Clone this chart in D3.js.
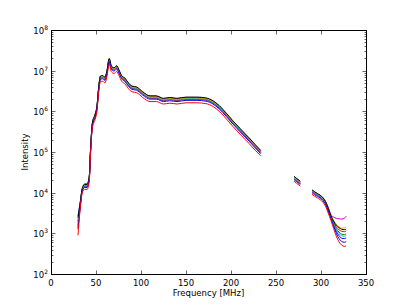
<!DOCTYPE html>
<html>
<meta charset="utf-8" />
<head>
<style>
body { margin: 0; background: #fff; }
svg text { font-family: "DejaVu Sans", sans-serif; fill: #000; }
</style>
<script src="https://d3js.org/d3.v7.min.js" charset="utf-8"></script>
</head>
<body>
<svg class="chart" width="407" height="305"></svg>
<script>
// frequency in MHz; the null values at 250 and 284 break the line into three pieces
var freq = [30,32,35,37.5,40,42.5,44,46,49,51,53,55,57.5,60,62,64.7,67,70,73,75.5,78.5,82,86,90,95,102,110,117,125,132,140,150,162,172,180,187,195,202,210,220,227,233,
  250, 270,273,277, 284,
  290,293,296,299,302,305,308,311,314,317,320,323,326,328];

// log10 of intensity
var logBlue1 = [3.42,3.70,4.08,4.16,4.16,4.35,5.05,5.67,5.88,6.07,6.55,6.82,6.83,6.79,6.93,7.25,7.07,7.02,7.07,6.97,6.83,6.77,6.65,6.57,6.55,6.43,6.33,6.33,6.27,6.29,6.27,6.30,6.30,6.28,6.21,6.09,5.90,5.72,5.53,5.30,5.13,4.99,
  null, 4.35,4.30,4.23, null,
  4.03,3.98,3.94,3.90,3.84,3.74,3.58,3.39,3.22,3.05,2.94,2.88,2.87,2.89];
var logGreen = [3.30,3.64,4.12,4.22,4.22,4.39,5.09,5.71,5.92,6.11,6.59,6.86,6.87,6.83,6.97,7.29,7.11,7.06,7.11,7.01,6.87,6.81,6.69,6.61,6.59,6.47,6.37,6.37,6.31,6.33,6.31,6.34,6.34,6.32,6.25,6.13,5.94,5.76,5.57,5.34,5.17,5.03,
  null, 4.39,4.34,4.27, null,
  4.06,4.01,3.97,3.93,3.87,3.77,3.61,3.41,3.26,3.12,3.03,2.98,2.97,2.99];
var logRed1 = [3.15,3.58,4.08,4.13,4.13,4.35,5.05,5.67,5.88,6.07,6.55,6.82,6.83,6.79,6.93,7.25,7.07,7.02,7.07,6.97,6.83,6.77,6.65,6.57,6.55,6.43,6.33,6.33,6.27,6.29,6.27,6.30,6.30,6.28,6.21,6.09,5.90,5.72,5.53,5.30,5.13,4.99,
  null, 4.35,4.30,4.23, null,
  4.03,3.98,3.94,3.90,3.84,3.75,3.60,3.42,3.28,3.16,3.09,3.05,3.04,3.06];
var logCyan = [3.28,3.63,4.09,4.17,4.17,4.36,5.06,5.68,5.89,6.08,6.56,6.83,6.84,6.80,6.94,7.26,7.08,7.03,7.08,6.98,6.84,6.78,6.66,6.58,6.56,6.44,6.34,6.34,6.28,6.30,6.28,6.31,6.31,6.29,6.22,6.10,5.91,5.73,5.54,5.31,5.14,5.00,
  null, 4.36,4.31,4.24, null,
  4.04,3.99,3.95,3.91,3.85,3.75,3.59,3.40,3.24,3.09,2.99,2.94,2.93,2.95];
var logMagenta = [3.20,3.60,4.11,4.19,4.19,4.38,5.08,5.70,5.91,6.10,6.58,6.85,6.86,6.82,6.96,7.27,7.10,7.06,7.11,7.00,6.86,6.80,6.69,6.61,6.58,6.46,6.37,6.37,6.31,6.33,6.31,6.34,6.34,6.31,6.24,6.12,5.93,5.75,5.56,5.33,5.16,5.02,
  null, 4.38,4.33,4.26, null,
  4.06,4.01,3.97,3.93,3.88,3.79,3.64,3.46,3.40,3.37,3.36,3.35,3.37,3.42];
var logYellow = [3.25,3.62,4.11,4.19,4.19,4.38,5.08,5.70,5.91,6.10,6.58,6.85,6.86,6.82,6.96,7.28,7.10,7.05,7.10,7.00,6.86,6.80,6.68,6.60,6.58,6.46,6.36,6.36,6.30,6.32,6.30,6.33,6.33,6.31,6.24,6.12,5.93,5.75,5.56,5.33,5.16,5.02,
  null, 4.38,4.33,4.26, null,
  4.06,4.01,3.97,3.93,3.87,3.78,3.62,3.44,3.32,3.22,3.16,3.13,3.13,3.15];
var logBlack = [3.38,3.68,4.13,4.20,4.20,4.40,5.10,5.72,5.93,6.12,6.60,6.87,6.88,6.84,6.98,7.30,7.12,7.07,7.12,7.02,6.88,6.82,6.70,6.62,6.60,6.48,6.38,6.38,6.32,6.34,6.32,6.35,6.35,6.33,6.26,6.14,5.95,5.77,5.58,5.35,5.18,5.04,
  null, 4.40,4.35,4.28, null,
  4.07,4.02,3.98,3.94,3.88,3.78,3.62,3.44,3.30,3.20,3.14,3.10,3.09,3.10];
var logBlue2 = [3.10,3.55,4.05,4.13,4.13,4.32,5.02,5.64,5.85,6.04,6.52,6.79,6.80,6.76,6.90,7.22,7.04,6.99,7.04,6.94,6.80,6.74,6.62,6.54,6.52,6.40,6.30,6.30,6.24,6.26,6.24,6.27,6.27,6.25,6.18,6.06,5.87,5.69,5.50,5.27,5.10,4.96,
  null, 4.32,4.27,4.20, null,
  4.00,3.95,3.91,3.87,3.81,3.71,3.55,3.36,3.18,3.00,2.87,2.80,2.78,2.80];
var logRed2 = [2.95,3.50,4.02,4.08,4.08,4.28,4.98,5.60,5.80,5.99,6.47,6.73,6.74,6.70,6.84,7.16,6.98,6.93,6.98,6.88,6.74,6.68,6.56,6.48,6.46,6.34,6.24,6.24,6.18,6.20,6.18,6.21,6.21,6.19,6.12,6.00,5.81,5.63,5.44,5.21,5.04,4.91,
  null, 4.28,4.23,4.16, null,
  3.96,3.91,3.87,3.83,3.77,3.67,3.50,3.32,3.12,2.93,2.79,2.71,2.68,2.69];

var seriesValues = [logBlue1, logGreen, logRed1, logCyan, logMagenta, logYellow, logBlack, logBlue2, logRed2];
var seriesColors = ["#0000ff", "#008000", "#ff0000", "#00bfbf", "#bf00bf", "#bfbf00", "#000000", "#0000ff", "#ff0000"];

var xTicks = [0, 50, 100, 150, 200, 250, 300, 350];
var yExps = [2, 3, 4, 5, 6, 7, 8];

var plotLeft = 51, plotRight = 366, plotTop = 30, plotBottom = 274;

var svg = d3.select(".chart");

var x = d3.scaleLinear().domain([0, 350]).range([plotLeft, plotRight]);
var y = d3.scaleLog().domain([1e2, 1e8]).range([plotBottom, plotTop]);

// lines
var line = d3.line()
  .defined(function(d) { return d.v != null; })
  .x(function(d) { return x(d.f); })
  .y(function(d) { return y(Math.pow(10, d.v)); })
  .curve(d3.curveMonotoneX);

seriesValues.forEach(function(vals, i) {
  var pts = freq.map(function(f, j) { return { f: f, v: vals[j] }; });
  svg.append("path")
    .attr("d", line(pts))
    .attr("fill", "none")
    .attr("stroke", seriesColors[i])
    .attr("stroke-width", 1);
});

// frame
svg.append("rect")
  .attr("x", plotLeft + 0.5).attr("y", plotTop + 0.5)
  .attr("width", plotRight - plotLeft).attr("height", plotBottom - plotTop)
  .attr("fill", "none").attr("stroke", "#000").attr("stroke-width", 1);

var ticks = svg.append("g").attr("stroke", "#000").attr("stroke-width", 0.6);

// x ticks, bottom and top, pointing inwards
xTicks.forEach(function(t) {
  var px = Math.round(x(t)) + 0.5;
  ticks.append("line").attr("x1", px).attr("x2", px).attr("y1", plotBottom + 0.5).attr("y2", plotBottom - 3.5);
  ticks.append("line").attr("x1", px).attr("x2", px).attr("y1", plotTop + 0.5).attr("y2", plotTop + 4.5);
  svg.append("text")
    .attr("x", x(t)).attr("y", plotBottom + 12)
    .attr("text-anchor", "middle")
    .style("font-size", "8.5px")
    .text(t);
});

// y ticks, major and minor, left and right
yExps.forEach(function(e) {
  var py = Math.round(y(Math.pow(10, e))) + 0.5;
  ticks.append("line").attr("x1", plotLeft + 0.5).attr("x2", plotLeft + 4.5).attr("y1", py).attr("y2", py);
  ticks.append("line").attr("x1", plotRight + 0.5).attr("x2", plotRight - 3.5).attr("y1", py).attr("y2", py);
  var lab = svg.append("text")
    .attr("x", plotLeft - 3).attr("y", py + 3)
    .attr("text-anchor", "end")
    .style("font-size", "8.5px");
  lab.append("tspan").text("10");
  lab.append("tspan").attr("dy", -4).style("font-size", "6px").text(e);
  if (e < 8) {
    for (var m = 2; m <= 9; m++) {
      var my = Math.round(y(m * Math.pow(10, e))) + 0.5;
      ticks.append("line").attr("x1", plotLeft + 0.5).attr("x2", plotLeft + 2.5).attr("y1", my).attr("y2", my);
      ticks.append("line").attr("x1", plotRight + 0.5).attr("x2", plotRight - 1.5).attr("y1", my).attr("y2", my);
    }
  }
});

// axis titles
svg.append("text")
  .attr("x", (plotLeft + plotRight) / 2).attr("y", plotBottom + 22)
  .attr("text-anchor", "middle")
  .style("font-size", "8.5px")
  .text("Frequency [MHz]");

svg.append("text")
  .attr("transform", "translate(28," + ((plotTop + plotBottom) / 2) + ") rotate(-90)")
  .attr("text-anchor", "middle")
  .style("font-size", "8.5px")
  .text("Intensity");
</script>
</body>
</html>
